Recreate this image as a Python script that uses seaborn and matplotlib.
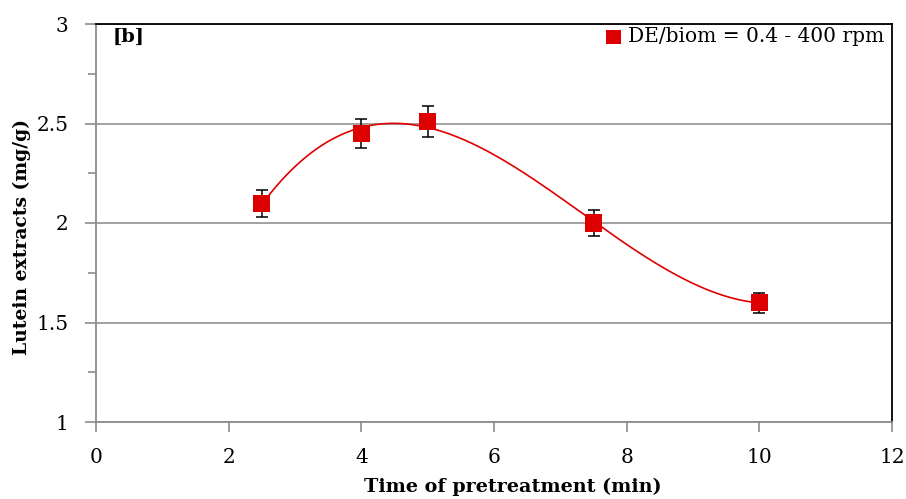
import numpy as np
import pandas as pd
import matplotlib
matplotlib.use("Agg")
import matplotlib.pyplot as plt
import seaborn as sns

# Data
time_min = [2.5, 4, 5, 7.5, 10]
lutein = [2.10, 2.45, 2.51, 2.00, 1.60]
lutein_err = [0.068, 0.075, 0.078, 0.063, 0.05]
series_label = "DE/biom = 0.4 - 400 rpm"
panel_label = "[b]"

sns.set_style("white")
plt.rcParams['font.family'] = ['DejaVu Serif']
plt.rcParams['text.color'] = 'black'
plt.rcParams['axes.labelcolor'] = 'black'
plt.rcParams['xtick.labelcolor'] = 'black'
plt.rcParams['ytick.labelcolor'] = 'black'

W, H = 906, 499
fig = plt.figure(figsize=(W / 100, H / 100), dpi=100)
ax = fig.add_axes([96 / W, 1 - 422 / H, (892 - 96) / W, (422 - 24) / H])

# smooth trend curve (cubic fit of the data)
coef = np.polyfit(time_min, lutein, 3)
sx = np.linspace(min(time_min), max(time_min), 300)
sy = np.polyval(coef, sx)
curve = pd.DataFrame({"x": sx, "y": sy})
sns.lineplot(data=curve, x="x", y="y", sort=False, color="#E00000", linewidth=1.2, ax=ax, zorder=3)

ax.errorbar(time_min, lutein, yerr=lutein_err, fmt="none", ecolor="black",
            elinewidth=1.1, capsize=4, capthick=1.1, zorder=4)
df = pd.DataFrame({"t": time_min, "l": lutein})
sns.scatterplot(data=df, x="t", y="l", marker="s", s=150, color="#DD0000",
                edgecolor="none", ax=ax, zorder=5, label=series_label)

ax.set_xlim(0, 12)
ax.set_ylim(1, 3)
ax.set_xticks([0, 2, 4, 6, 8, 10, 12])
ax.set_yticks([1, 1.5, 2, 2.5, 3])
ax.set_yticklabels(["1", "1.5", "2", "2.5", "3"])
ax.set_yticks(np.arange(1, 3.01, 0.25), minor=True)
ax.yaxis.grid(True, which="major", color="#9a9a9a", linewidth=1.3)
ax.set_axisbelow(True)

for side in ["left", "bottom"]:
    ax.spines[side].set_color("#8c8c8c")
    ax.spines[side].set_linewidth(1.3)
for side in ["top", "right"]:
    ax.spines[side].set_color("black")
    ax.spines[side].set_linewidth(1.3)

ax.tick_params(axis="y", which="major", direction="out", length=8, width=1.2,
               color="#8c8c8c", labelsize=14.5, pad=12, left=True, labelcolor="black")
ax.tick_params(axis="y", which="minor", direction="out", length=6, width=1.2,
               color="#8c8c8c", left=True)
ax.tick_params(axis="x", which="major", direction="out", length=7, width=1.2,
               color="#8c8c8c", labelsize=14.5, pad=12, bottom=True, labelcolor="black")

ax.set_xlabel("Time of pretreatment (min)", fontsize=13.8, fontweight="bold", color="black")
ax.xaxis.set_label_coords((513 - 96) / 796, -(487 - 422) / 398)
ax.xaxis.label.set_va("center")
ax.set_ylabel("Lutein extracts (mg/g)", fontsize=13.5, fontweight="bold", color="black")
ax.yaxis.set_label_coords(-(96 - 22) / 796, (422 - 237) / 398)
ax.yaxis.label.set_va("center")

ax.text((113 - 96) / 796, 1 - (28 - 24) / 398, panel_label, transform=ax.transAxes,
        fontsize=14, fontweight="bold", va="top", ha="left", color="black")

leg = ax.legend(loc="upper right", bbox_to_anchor=(1 - 5 / 796, 1.0), frameon=False,
                fontsize=14.5, handletextpad=0.2, borderaxespad=0.0, borderpad=0.15,
                markerscale=0.85, handlelength=1.0, labelcolor="black")

fig.savefig("out.png", dpi=100)
